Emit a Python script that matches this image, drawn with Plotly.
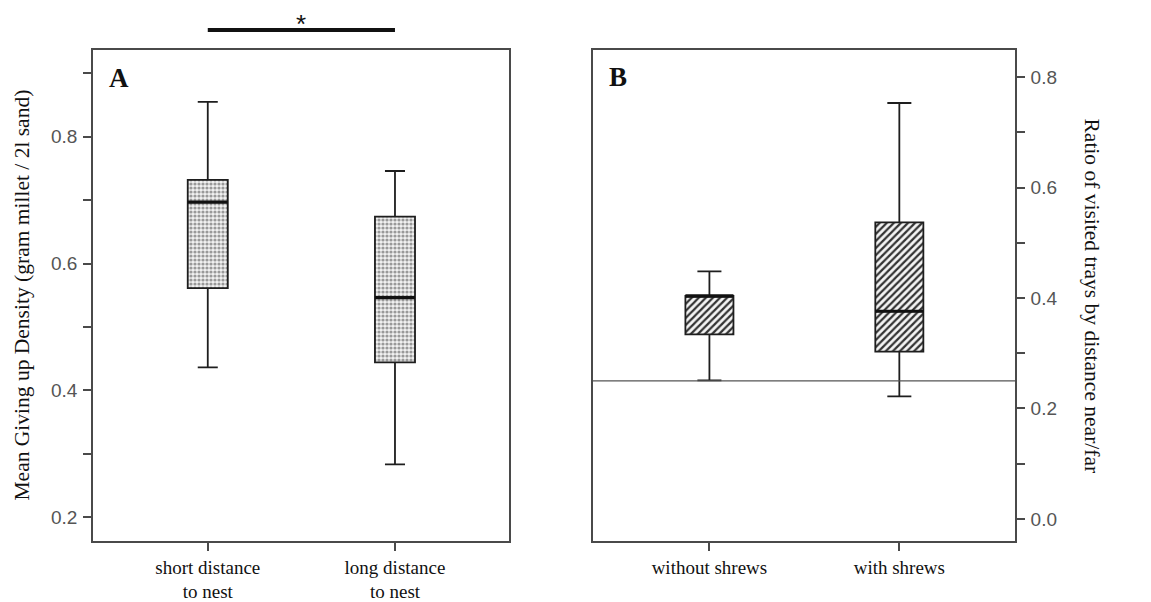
import plotly.graph_objects as go

# ---- data ----
cats_a = ["short distance<br>to nest", "long distance<br>to nest"]
a_lower = [0.436, 0.283]
a_q1 = [0.561, 0.444]
a_median = [0.697, 0.546]
a_q3 = [0.732, 0.674]
a_upper = [0.855, 0.746]

cats_b = ["without shrews", "with shrews"]
b_lower = [0.251, 0.222]
b_q1 = [0.334, 0.303]
b_median = [0.404, 0.376]
b_q3 = [0.404, 0.537]
b_upper = [0.448, 0.753]
b_reference = 0.25

pos = [0, 1]
w_a = 0.214
w_b = 0.253

SERIF = "Liberation Serif, Times New Roman, serif"
SANS = "Liberation Sans, Arial, sans-serif"
LINE = "#1e1e1e"
FRAME = "#4a4a4a"

# page body has an 8px margin, so the figure is sized/positioned to compensate
W, H = 1143, 594

fig = go.Figure()

# panel A pattern fill boxes
fig.add_trace(go.Bar(
    x=pos, y=[q3 - q1 for q1, q3 in zip(a_q1, a_q3)], base=a_q1, width=w_a,
    marker=dict(color="#e6e6e6", line=dict(width=0),
                pattern=dict(shape=".", fgcolor="#999999", bgcolor="#f2f2f2", size=4, solidity=0.5)),
    xaxis="x", yaxis="y", showlegend=False, hoverinfo="skip"))
fig.add_trace(go.Box(
    x=pos, q1=a_q1, median=a_median, q3=a_q3, lowerfence=a_lower, upperfence=a_upper,
    width=w_a, whiskerwidth=0.5, boxpoints=False, fillcolor="rgba(0,0,0,0)",
    line=dict(color=LINE, width=1.8), xaxis="x", yaxis="y", showlegend=False))
for p, m in zip(pos, a_median):
    fig.add_trace(go.Scatter(x=[p - w_a / 2, p + w_a / 2], y=[m, m], mode="lines",
                             line=dict(color="#111", width=3.2), xaxis="x", yaxis="y",
                             showlegend=False, hoverinfo="skip"))

# panel B pattern fill boxes
fig.add_trace(go.Bar(
    x=pos, y=[q3 - q1 for q1, q3 in zip(b_q1, b_q3)], base=b_q1, width=w_b,
    marker=dict(color="#e6e6e6", line=dict(width=0),
                pattern=dict(shape="/", fgcolor="#333333", bgcolor="#f4f4f4", size=5, solidity=0.45)),
    xaxis="x2", yaxis="y2", showlegend=False, hoverinfo="skip"))
fig.add_trace(go.Box(
    x=pos, q1=b_q1, median=b_median, q3=b_q3, lowerfence=b_lower, upperfence=b_upper,
    width=w_b, whiskerwidth=0.5, boxpoints=False, fillcolor="rgba(0,0,0,0)",
    line=dict(color=LINE, width=1.8), xaxis="x2", yaxis="y2", showlegend=False))
for p, m in zip(pos, b_median):
    fig.add_trace(go.Scatter(x=[p - w_b / 2, p + w_b / 2], y=[m, m], mode="lines",
                             line=dict(color="#111", width=3.2), xaxis="x2", yaxis="y2",
                             showlegend=False, hoverinfo="skip"))

xcommon = dict(range=[-0.613, 1.609], tickvals=pos, ticks="outside", ticklen=8, tickwidth=1.5,
               tickcolor=FRAME, showline=True, linecolor=FRAME, linewidth=1.6, mirror=True,
               showgrid=False, zeroline=False, automargin=False,
               tickfont=dict(family=SERIF, size=19, color="#111"))
ycommon = dict(dtick=0.2, tick0=0, tickformat=".1f", ticks="outside", ticklen=8, tickwidth=1.5,
               tickcolor=FRAME, showline=True, linecolor=FRAME, linewidth=1.6, mirror=True,
               showgrid=False, zeroline=False, ticklabelstandoff=2, automargin=False,
               tickfont=dict(family=SANS, size=19, color="#555"),
               minor=dict(dtick=0.1, ticks="outside", ticklen=8, tickwidth=1.5, tickcolor=FRAME))

fig.update_layout(
    template="none",
    width=W, height=H, plot_bgcolor="white", paper_bgcolor="white",
    margin=dict(l=0, r=0, t=42, b=61, autoexpand=False), barmode="overlay",
    xaxis=dict(domain=[85 / W, 501 / W], ticktext=cats_a, anchor="y", **xcommon),
    yaxis=dict(domain=[0, 1], range=[0.162, 0.937], anchor="x", side="left", **ycommon),
    xaxis2=dict(domain=[585 / W, 1007 / W], ticktext=cats_b, anchor="y2", **xcommon),
    yaxis2=dict(domain=[0, 1], range=[-0.040, 0.849], anchor="x2", side="right", **ycommon),
    shapes=[
        dict(type="line", xref="x2 domain", yref="y2", x0=0, x1=1, y0=b_reference, y1=b_reference,
             line=dict(color="#555", width=1.3)),
        dict(type="line", xref="x", yref="paper", x0=pos[0], x1=pos[1], y0=1.0407, y1=1.0407,
             line=dict(color="#111", width=4)),
    ],
    annotations=[
        dict(text="<b>A</b>", xref="x domain", yref="y domain", x=0.033, y=0.943, xanchor="left",
             yanchor="middle", showarrow=False, font=dict(family=SERIF, size=27, color="#111")),
        dict(text="<b>B</b>", xref="x2 domain", yref="y2 domain", x=0.033, y=0.945, xanchor="left",
             yanchor="middle", showarrow=False, font=dict(family=SERIF, size=27, color="#111")),
        dict(text="*", xref="x", yref="paper", x=0.5, y=1.053, xanchor="center", yanchor="middle",
             showarrow=False, font=dict(family=SANS, size=26, color="#111")),
        dict(text="Mean Giving up Density (gram millet / 2l sand)", xref="paper", yref="paper",
             x=13 / W, y=0.5, textangle=-90, showarrow=False, xanchor="center", yanchor="middle",
             font=dict(family=SERIF, size=21.5, color="#111")),
        dict(text="Ratio of visited trays by distance near/far", xref="paper", yref="paper",
             x=1084 / W, y=0.5, textangle=90, showarrow=False, xanchor="center", yanchor="middle",
             font=dict(family=SERIF, size=21.5, color="#111")),
    ],
)

fig.write_html("out.html")
